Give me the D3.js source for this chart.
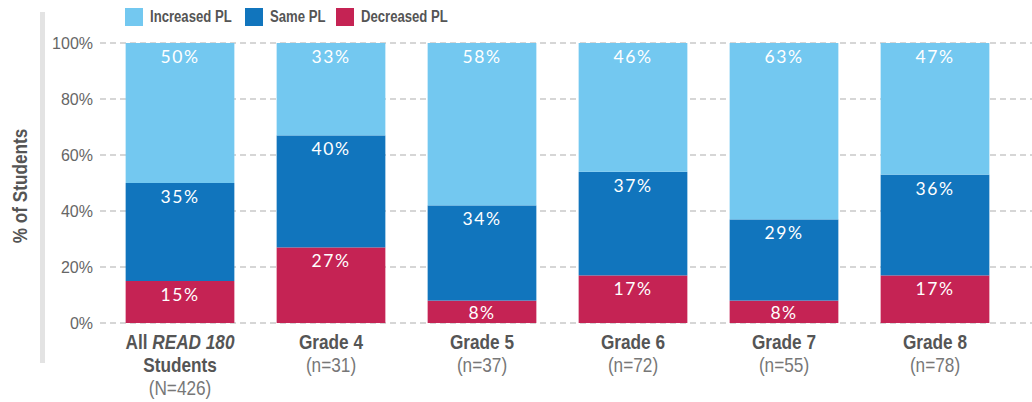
<!DOCTYPE html>
<html><head><meta charset="utf-8">
<script src="https://cdn.jsdelivr.net/npm/d3@7"></script>
<style>
body{margin:0;background:#fff;}
svg{display:block;}
</style></head>
<body>
<svg id="c" width="1032" height="402"></svg>
<script>
const categories = ["All READ 180 Students", "Grade 4", "Grade 5", "Grade 6", "Grade 7", "Grade 8"];
const counts = ["(N=426)", "(n=31)", "(n=37)", "(n=72)", "(n=55)", "(n=78)"];
const decreased = [15, 27, 8, 17, 8, 17];
const same = [35, 40, 34, 37, 29, 36];
const increased = [50, 33, 58, 46, 63, 47];
const seriesNames = ["Decreased PL", "Same PL", "Increased PL"];
const seriesColors = ["#c52354", "#1175bd", "#73c8f0"];
const legendOrder = ["Increased PL", "Same PL", "Decreased PL"];
const yTicks = [0, 20, 40, 60, 80, 100];

const svg = d3.select("#c");
const sans = "'Liberation Sans', Arial, Helvetica, sans-serif";
const labelFont = "Lato, 'Open Sans', sans-serif";
const SX = 0.82; // horizontal condense factor

// condensed text helper
function ctext(parent, x, y, anchor, size, weight, fill, rotate) {
  const g = parent.append("g").attr("transform", `translate(${x},${y})` + (rotate ? ` rotate(${rotate})` : "") + ` scale(${SX},1)`);
  return g.append("text").attr("text-anchor", anchor).attr("font-family", sans)
    .attr("font-size", size).attr("font-weight", weight).attr("fill", fill);
}

const x = d3.scaleBand().domain(categories).range([104.5, 1010.5]).paddingInner(0.28).paddingOuter(0.14);
const y = d3.scaleLinear().domain([0, 100]).range([323, 43]);

// left gray rule
svg.append("rect").attr("x", 40).attr("y", 12).attr("width", 5).attr("height", 351).attr("fill", "#e3e3e3");

// y title
ctext(svg, 27, 186, "middle", 21, "bold", "#555", -90).text("% of Students");

// gridlines
const grid = svg.append("g");
grid.selectAll("line").data(yTicks).join("line")
  .attr("x1", 100).attr("x2", 1032)
  .attr("y1", d => y(d)).attr("y2", d => y(d))
  .attr("stroke", "#d6d6d6").attr("stroke-width", 2).attr("stroke-dasharray", "6,4");

// y axis tick labels
const yAxis = d3.axisLeft(y).tickValues(yTicks).tickFormat(d => d + "%").tickSize(0).tickPadding(0);
const ya = svg.append("g").attr("transform", "translate(93,0)").call(yAxis);
ya.select(".domain").remove();
ya.selectAll("text").attr("font-family", sans).attr("font-size", 16).attr("fill", "#666").attr("dy", "0.36em");

// stacked data
const rows = categories.map((c, i) => ({cat: c, "Decreased PL": decreased[i], "Same PL": same[i], "Increased PL": increased[i]}));
const stack = d3.stack().keys(seriesNames)(rows);
const color = d3.scaleOrdinal().domain(seriesNames).range(seriesColors);

const layers = svg.append("g").selectAll("g").data(stack).join("g").attr("fill", d => color(d.key));
layers.selectAll("rect").data(d => d).join("rect")
  .attr("x", d => x(d.data.cat)).attr("width", x.bandwidth())
  .attr("y", d => y(d[1])).attr("height", d => y(d[0]) - y(d[1]));

// value labels
const lab = svg.append("g");
stack.forEach(layer => {
  layer.forEach(d => {
    const top = y(d[1]), bot = y(d[0]);
    const base = Math.min(top + 20, bot - 4);
    lab.append("text").attr("x", x(d.data.cat) + x.bandwidth() / 2).attr("y", base)
      .attr("text-anchor", "middle").attr("font-family", labelFont).attr("font-size", 17.5)
      .attr("font-weight", 400).attr("letter-spacing", 1.5).attr("fill", "#fff").text((d[1] - d[0]) + "%");
  });
});

// x labels
const xl = svg.append("g");
categories.forEach((c, i) => {
  const cx = x(c) + x.bandwidth() / 2;
  if (i === 0) {
    const t = ctext(xl, cx, 349, "middle", 21, "bold", "#555");
    t.append("tspan").text("All ");
    t.append("tspan").attr("font-style", "italic").text("READ 180");
    ctext(xl, cx, 372, "middle", 21, "bold", "#555").text("Students");
    ctext(xl, cx, 395, "middle", 21, "normal", "#777").text(counts[i]);
  } else {
    ctext(xl, cx, 349, "middle", 21, "bold", "#555").text(c);
    ctext(xl, cx, 372, "middle", 21, "normal", "#777").text(counts[i]);
  }
});

// legend
const legX = [125, 245, 336];
const lg = svg.append("g");
legendOrder.forEach((k, i) => {
  lg.append("rect").attr("x", legX[i]).attr("y", 8).attr("width", 18).attr("height", 18).attr("fill", color(k));
  ctext(lg, legX[i] + 25, 22, "start", 16, "bold", "#555").text(k);
});
</script>
</body></html>
